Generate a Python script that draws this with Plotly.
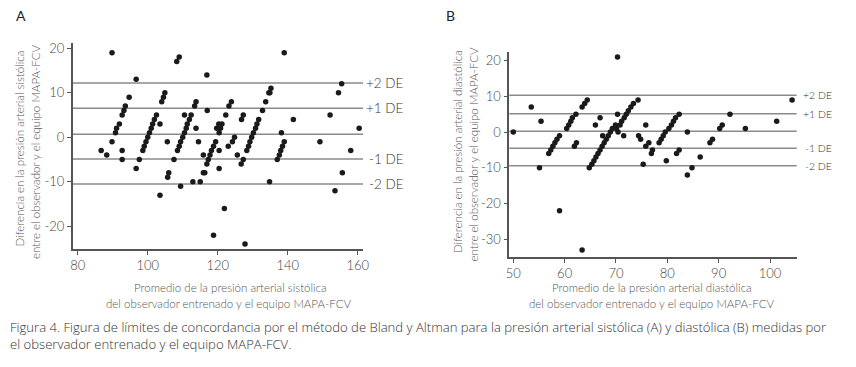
import plotly.graph_objects as go

# The page adds an 8 px body margin, so the figure is 16 px smaller than the window.
W, H = 840, 351
OFF = 8

# ---------------- data ----------------
a_mean = [86.7, 88.3, 89.8, 89.8, 90.8, 91.1, 91.9, 92.7, 92.7, 92.7, 93.2, 93.6, 94.7, 96.7, 96.7,
          97.6, 98.6, 99.0, 99.5, 100.0, 100.5, 101.0, 101.4, 101.9, 102.5, 103.5, 103.5, 104.0, 104.5,
          104.9, 105.6, 105.7, 106.0, 107.5, 108.3, 109.0, 108.5, 109.0, 109.4, 109.4, 110.0, 110.5,
          110.5, 111.0, 111.3, 111.9, 112.4, 112.9, 113.4, 113.8, 113.8, 114.5, 115.0, 115.9, 115.9,
          116.3, 116.9, 117.0, 116.9, 117.3, 117.8, 118.2, 118.8, 118.8, 119.4, 119.7, 120.3, 120.4,
          120.4, 120.4, 120.8, 121.2, 121.9, 122.3, 123.0, 123.2, 123.9, 124.2, 124.8, 125.6, 126.7,
          126.8, 127.3, 127.3, 127.8, 128.3, 128.8, 129.2, 129.7, 130.2, 130.8, 131.2, 131.7, 132.8,
          133.7, 134.6, 134.8, 134.9, 135.2, 137.0, 137.6, 138.0, 138.2, 138.5, 139.0, 139.0, 141.6,
          149.2, 152.1, 153.5, 154.5, 155.4, 155.6, 158.0, 160.4]
a_diff = [-3, -4, 19, -1, 1, 2, 3, 5, -3, -5, 6, 7, 9, 13, -7,
          -5, -3, -2, -1, 0, 1, 2, 3, 4, 5, 3, -13, 8, 9,
          10, -1, -9, -8, -5, 17, 18, -3, -2, -1, -11, 0, 5,
          1, 2, 3, 4, 5, -10, 7, 8, 2, -1, -10, -4, -8,
          -8, 14, 6, -6, -5, -4, -3, -2, -22, -1, 2, 3, -3,
          -7, 1, 2, 3, -16, 5, -2, 7, 8, -1, 0, -4, -6,
          4, 5, -5, -24, -3, -2, -1, 0, 1, 2, 3, 4, 6,
          8, 10, -10, 10, 11, -5, -4, -3, 1, -2, -1, 19, 4,
          -1, 5, -12, 10, 12, -8, -3, 2]

b_mean = [50.0, 53.5, 55.1, 55.4, 56.9, 57.3, 57.7, 58.1, 58.5, 59.0, 59.0, 60.4, 60.8, 61.2, 61.5,
          62.2, 61.9, 62.3, 63.4, 63.9, 64.4, 63.4, 64.8, 65.3, 65.7, 66.1, 66.0, 66.5, 66.9, 66.9,
          67.3, 67.4, 67.7, 68.1, 68.5, 68.9, 69.3, 69.9, 70.1, 70.3, 70.3, 70.4, 70.8, 71.1, 71.5,
          71.6, 72.0, 72.4, 72.9, 73.4, 74.3, 74.4, 74.8, 75.3, 75.8, 75.8, 76.4, 76.9, 77.1, 78.4,
          78.8, 79.2, 79.6, 79.8, 80.3, 80.8, 81.2, 81.6, 81.8, 82.3, 82.3, 83.9, 83.9, 84.8, 86.4,
          88.3, 88.8, 90.2, 90.7, 92.2, 95.2, 101.3, 104.3]
b_diff = [0, 7, -10, 3, -6, -5, -4, -3, -2, -1, -22, 1, 2, 3, 4,
          5, -4, -3, 7, 8, 9, -33, -10, -9, -8, -7, 2, -6, -5, 4,
          -4, -1, -3, -2, -1, 0, 1, 2, 1, 21, 5, 0, 2, 3, -1,
          4, 5, 6, 7, 8, 9, -1, -2, -9, 2, -4, -3, -6, -5, -3,
          -2, -1, 0, -8, 1, 2, 3, 4, -6, 5, -5, 0, -12, -10, -7,
          -3, -2, 1, 2, 5, 1, 3, 9]

a_limits = [12.2, 6.5, 0.7, -4.9, -10.5]
b_limits = [10.3, 5.1, 0.2, -4.5, -9.4]
limit_labels = ["+2 DE", "+1 DE", "", "-1 DE", "-2 DE"]

a_xticks = [80, 100, 120, 140, 160]
a_yticks = [-20, -10, 0, 10, 20]
b_xticks = [50, 60, 70, 80, 90, 100]
b_yticks = [-30, -20, -10, 0, 10, 20]

a_ytitle = ["Diferencia en la presión arterial sistólica", "entre el observador y el equipo MAPA-FCV"]
a_xtitle = ["Promedio de la presión arterial sistólica", "del observador entrenado y el equipo MAPA-FCV"]
b_ytitle = ["Diferencia en la presión arterial diastólica", "entre el observador y el equipo MAPA-FCV"]
b_xtitle = ["Promedio de la presión arterial diastólica", "del observador entrenado y el equipo MAPA-FCV"]
caption = ["Figura 4. Figura de límites de concordancia por el método de Bland y Altman para la presión arterial sistólica (A) y diastólica (B) medidas por",
           "el observador entrenado y el equipo MAPA-FCV."]


def fx(px):
    # window pixel -> paper fraction
    return (px - OFF) / W


def fy(py):
    return (H + OFF - py) / H


FONT = "Lato"
TICKC = "#454545"
LINEC = "#8a8a8a"

fig = go.Figure()
fig.add_trace(go.Scatter(x=a_mean, y=a_diff, mode="markers", xaxis="x", yaxis="y",
                         marker=dict(size=5.5, color="#1a1a1a"), showlegend=False, hoverinfo="x+y"))
fig.add_trace(go.Scatter(x=b_mean, y=b_diff, mode="markers", xaxis="x2", yaxis="y2",
                         marker=dict(size=5.5, color="#1a1a1a"), showlegend=False, hoverinfo="x+y"))

axis_common = dict(showgrid=False, zeroline=False, showline=True, linecolor="#555555", linewidth=1.6,
                   ticks="outside", ticklen=4, tickwidth=1, tickcolor="#555555", automargin=False,
                   tickfont=dict(family=FONT, size=13, color=TICKC, weight=300), fixedrange=True)


def labels(vals):
    return [str(v) for v in vals]


fig.update_layout(
    width=W, height=H, margin=dict(l=0, r=0, t=0, b=0, pad=0, autoexpand=False),
    paper_bgcolor="white", plot_bgcolor="white",
    xaxis=dict(domain=[fx(72.7), fx(363)], range=[78.57, 161.5], anchor="y",
               tickvals=a_xticks, ticktext=labels(a_xticks), **axis_common),
    yaxis=dict(domain=[fy(249), fy(43.3)], range=[-25.1, 21.1], anchor="x",
               tickvals=a_yticks, ticktext=labels(a_yticks), **axis_common),
    xaxis2=dict(domain=[fx(509.3), fx(796.7)], range=[49.22, 105.2], anchor="y2",
                tickvals=b_xticks, ticktext=labels(b_xticks), **axis_common),
    yaxis2=dict(domain=[fy(256.7), fy(51.7)], range=[-34.9, 22.5], anchor="x2",
                tickvals=b_yticks, ticktext=labels(b_yticks), **axis_common),
)

shapes = []
annots = []
for val, lab in zip(a_limits, limit_labels):
    shapes.append(dict(type="line", xref="x domain", yref="y", x0=0, x1=1, y0=val, y1=val,
                       line=dict(color=LINEC, width=1.5), layer="below"))
    if lab:
        annots.append(dict(text=lab, xref="paper", yref="y", x=fx(406), y=val, xanchor="right",
                           yanchor="middle", showarrow=False,
                           font=dict(family=FONT, size=13.5, color="#333333", weight=300)))
for val, lab in zip(b_limits, limit_labels):
    shapes.append(dict(type="line", xref="x2 domain", yref="y2", x0=0, x1=1, y0=val, y1=val,
                       line=dict(color=LINEC, width=1.5), layer="below"))
    if lab:
        annots.append(dict(text=lab, xref="paper", yref="y2", x=fx(834), y=val, xanchor="right",
                           yanchor="middle", showarrow=False,
                           font=dict(family=FONT, size=10.5, color="#333333", weight=300)))


def txt(text, x, y, size, color="#555555", angle=0, xanchor="center", family=FONT, weight=300,
        align="center"):
    annots.append(dict(text=text, xref="paper", yref="paper", x=fx(x), y=fy(y), xanchor=xanchor,
                       yanchor="middle", showarrow=False, textangle=angle, align=align,
                       font=dict(family=family, size=size, color=color, weight=weight)))


# panel letters
txt("A", 14, 15, 14, "#222222", xanchor="left", weight=400)
txt("B", 444, 15, 14, "#222222", xanchor="left", weight=400)

# axis titles
TS = 11.5
txt(a_ytitle[0], 18.5, 149, TS, angle=-90)
txt(a_ytitle[1], 35, 152, TS, angle=-90)
txt(a_xtitle[0], 230, 287, TS)
txt(a_xtitle[1], 228, 303, TS)
txt(b_ytitle[0], 457, 152, TS, angle=-90)
txt(b_ytitle[1], 473.5, 155, TS, angle=-90)
txt(b_xtitle[0], 652, 287, TS)
txt(b_xtitle[1], 651, 303, TS)

# caption (one two-line text block)
txt("<br>".join(caption), 8, 335, 13.1, "#333333", xanchor="left", family="Open Sans", weight=300,
    align="left")

fig.update_layout(shapes=shapes, annotations=annots)
fig.write_html("out.html")
